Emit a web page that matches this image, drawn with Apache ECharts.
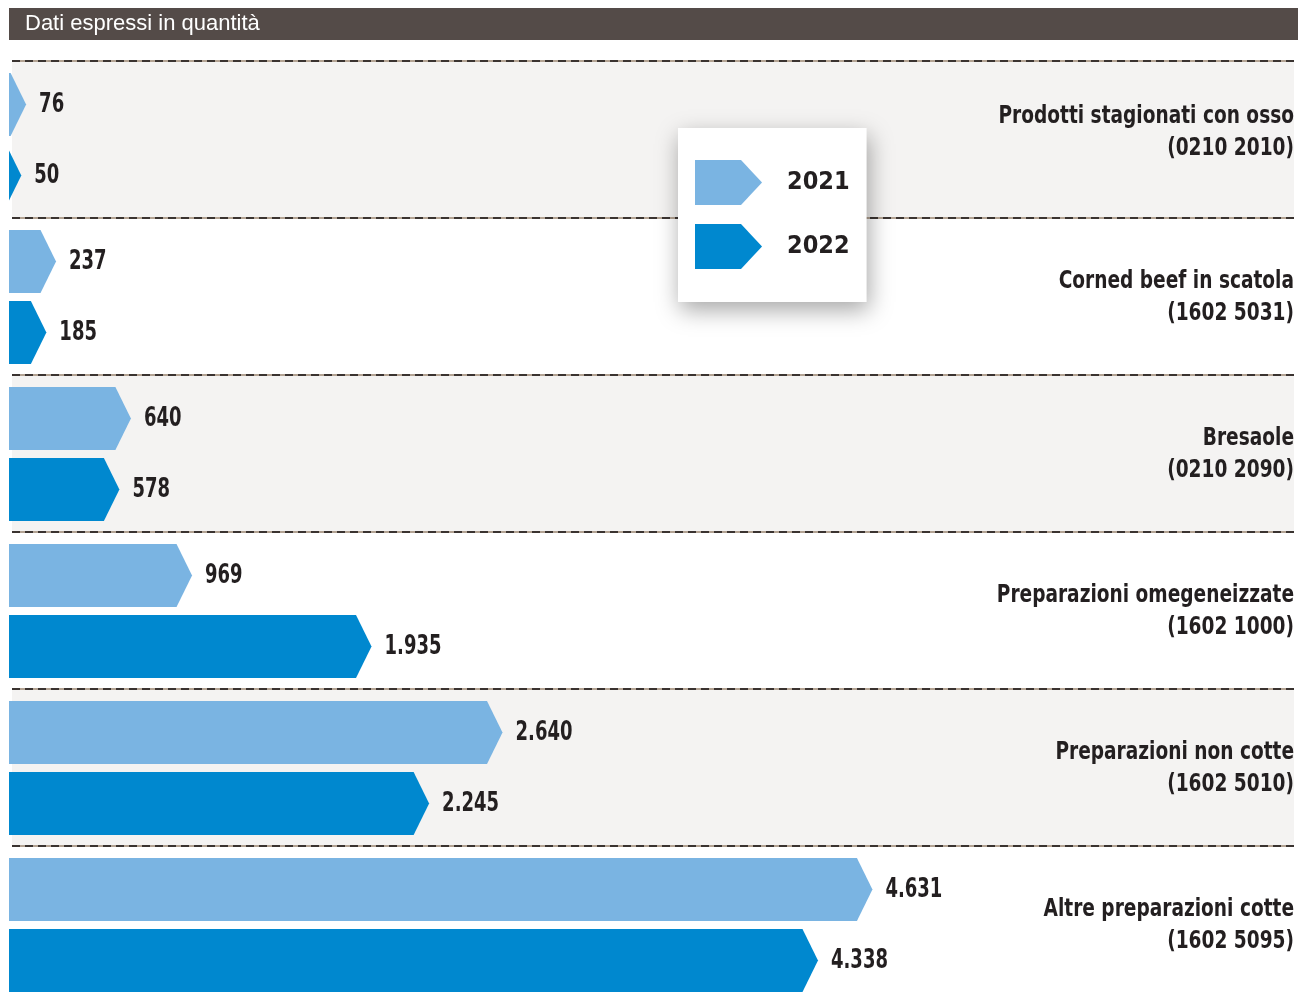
<!DOCTYPE html>
<html>
<head>
<meta charset="utf-8">
<script src="https://cdn.jsdelivr.net/npm/echarts@6/dist/echarts.min.js"></script>
<style>
html,body{margin:0;padding:0;background:#fff;overflow:hidden;}
#c{width:1298px;height:1003px;}
</style>
</head>
<body>
<div id="c"></div>
<script>
const headerText = 'Dati espressi in quantità';
const categories = ['Prodotti stagionati con osso', 'Corned beef in scatola', 'Bresaole', 'Preparazioni omegeneizzate', 'Preparazioni non cotte', 'Altre preparazioni cotte'];
const codes = ['(0210 2010)', '(1602 5031)', '(0210 2090)', '(1602 1000)', '(1602 5010)', '(1602 5095)'];
const seriesNames = ['2021', '2022'];
const values2021 = [76, 237, 640, 969, 2640, 4631];
const values2022 = [50, 185, 578, 1935, 2245, 4338];

const COND = '"DejaVu Sans Condensed", "Liberation Sans Narrow", sans-serif';
const C2021 = '#7ab4e2', C2022 = '#0088cf', TXT = '#231f20';

function fmt(v){ return String(v).replace(/\B(?=(\d{3})+(?!\d))/g, '.'); }

function makeRender(offsetTop){
  return function(params, api){
    const v = api.value(0), cat = api.value(1);
    const p = api.coord([v, cat]);
    const band = api.size([0, 1])[1];
    const bandTop = p[1] - band / 2;
    const top = bandTop + offsetTop, h = 63, bot = top + h, mid = top + h / 2;
    const x0 = params.coordSys.x - 3;
    const tip = p[0], L = 15.5;
    let pts;
    if (tip - L >= x0) {
      pts = [[x0, top], [tip - L, top], [tip, mid], [tip - L, bot], [x0, bot]];
    } else {
      const hv = (h / 2) * (tip - x0) / L;
      pts = [[x0, mid - hv], [tip, mid], [x0, mid + hv]];
    }
    return {
      type: 'group',
      children: [
        { type: 'polygon', shape: { points: pts }, style: { fill: api.visual('color') } },
        { type: 'text', x: tip + 13, y: mid + 1, scaleX: 0.77,
          style: { text: fmt(v), fill: TXT, font: 'bold 26px ' + COND, align: 'left', verticalAlign: 'middle' } }
      ]
    };
  };
}

function renderCategory(params, api){
  const cat = api.value(0);
  const p = api.coord([0, cat]);
  const cs = params.coordSys;
  const dy = cat === 0 ? -7 : 1;
  return {
    type: 'text', x: cs.x + cs.width, y: p[1] + dy, scaleX: 0.86,
    style: { text: categories[cat] + '\n' + codes[cat], fill: TXT, font: 'bold 24px ' + COND,
             lineHeight: 32, align: 'right', verticalAlign: 'middle' }
  };
}

const chart = echarts.init(document.getElementById('c'), null, { renderer: 'canvas' });
chart.setOption({
  animation: false,
  backgroundColor: '#fff',
  graphic: [
    { type: 'rect', shape: { x: 9, y: 8, width: 1289, height: 32 }, style: { fill: '#544b48' }, z: 10 },
    { type: 'text', x: 25, y: 24, z: 11, style: { text: headerText, fill: '#fff', font: '22px "Liberation Sans", Arial, sans-serif', verticalAlign: 'middle' } }
  ],
  grid: { left: 12, right: 4, top: 61, bottom: 0, containLabel: false },
  xAxis: { type: 'value', min: 0, max: 6900, show: false },
  yAxis: [
    {
      type: 'category', data: categories, inverse: true, position: 'right', z: 1,
      axisLine: { show: false }, axisTick: { show: false }, axisLabel: { show: false },
      splitLine: { show: true, interval: 0, lineStyle: { color: '#3a3330', width: 2, type: [8, 5] } },
      splitArea: { show: false }
    },
    {
      type: 'category', data: categories, inverse: true, position: 'left', z: 0,
      axisLine: { show: false }, axisTick: { show: false }, axisLabel: { show: false },
      splitLine: { show: true, interval: 0, lineStyle: { color: '#b3a393', width: 2 } },
      splitArea: { show: true, interval: 0, areaStyle: { color: ['#f4f3f2', '#ffffff'] } }
    }
  ],
  legend: {
    orient: 'vertical', left: 678, top: 128,
    padding: [32, 17, 33, 17], itemGap: 19, itemWidth: 67, itemHeight: 45,
    backgroundColor: '#fff', shadowBlur: 22, shadowColor: 'rgba(0,0,0,0.35)', shadowOffsetX: 2, shadowOffsetY: 8,
    icon: 'path://M0,0 L46,0 L67,22.5 L46,45 L0,45 Z',
    textStyle: { fontFamily: COND, fontWeight: 'bold', fontSize: 25, color: TXT, padding: [0, 0, 0, 20] },
    data: seriesNames, z: 20
  },
  series: [
    { name: seriesNames[0], type: 'custom', itemStyle: { color: C2021 }, encode: { x: 0, y: 1 },
      renderItem: makeRender(12), data: values2021.map((v, i) => [v, i]), z: 5 },
    { name: seriesNames[1], type: 'custom', itemStyle: { color: C2022 }, encode: { x: 0, y: 1 },
      renderItem: makeRender(83), data: values2022.map((v, i) => [v, i]), z: 5 },
    { name: 'categorie', type: 'custom', yAxisIndex: 0, encode: { y: 0 },
      renderItem: renderCategory, data: categories.map((c, i) => [i]), z: 5, silent: true }
  ]
});
</script>
</body>
</html>
